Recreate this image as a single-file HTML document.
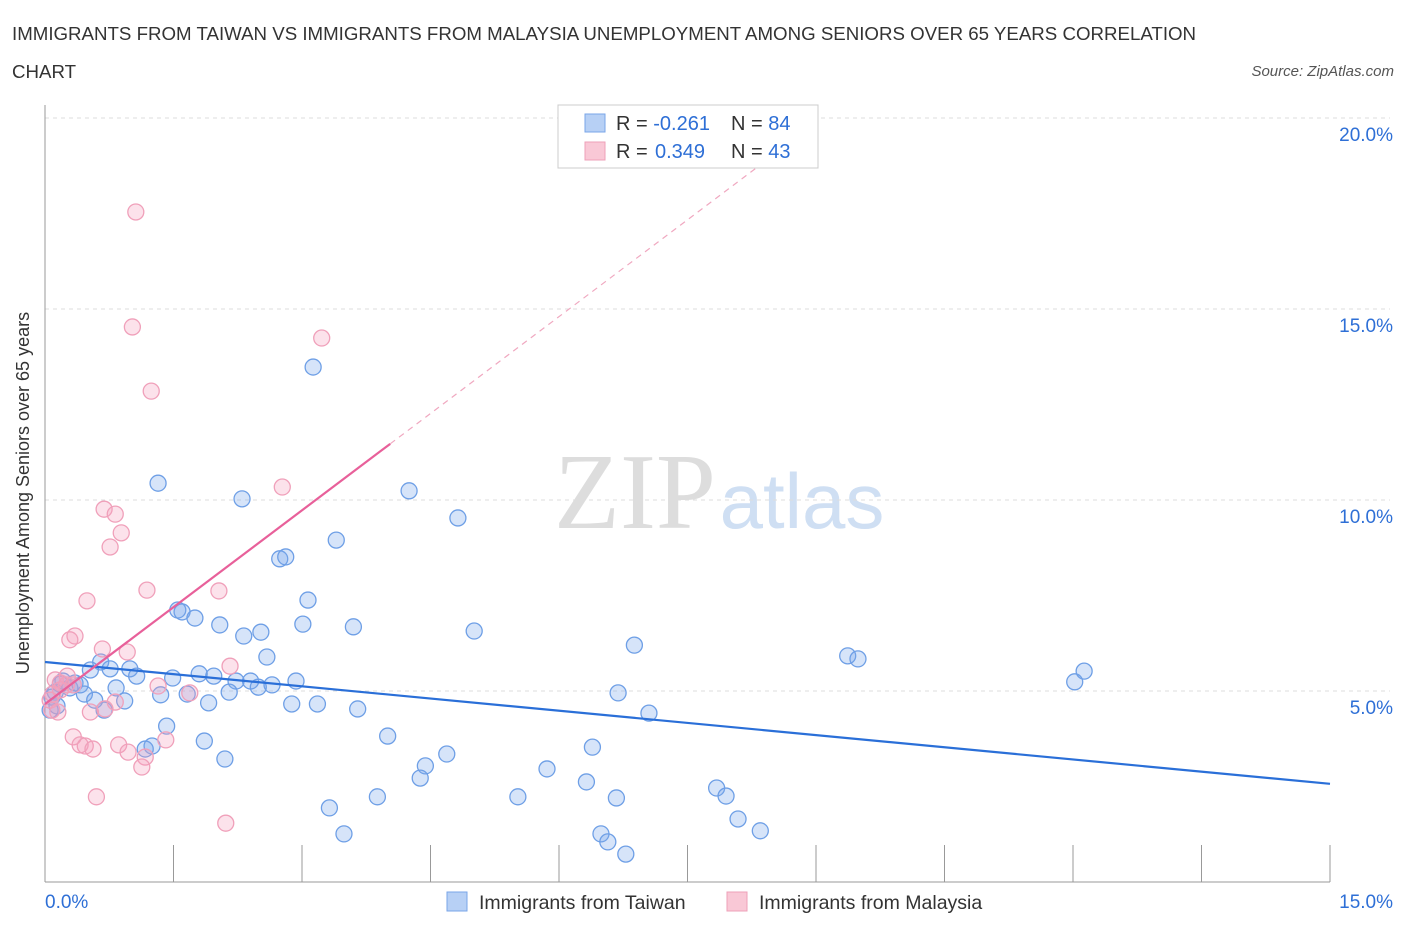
<!DOCTYPE html>
<html><head><meta charset="utf-8"><style>
body{margin:0;background:#fff;font-family:"Liberation Sans",sans-serif}
svg text{font-family:"Liberation Sans",sans-serif}
</style></head><body>
<svg id="c" width="1406" height="930">
<text x="12" y="40" font-size="18.7" fill="#333">IMMIGRANTS FROM TAIWAN VS IMMIGRANTS FROM MALAYSIA UNEMPLOYMENT AMONG SENIORS OVER 65 YEARS CORRELATION</text>
<text x="12" y="78" font-size="18.7" fill="#333">CHART</text>
<text x="1394" y="76" font-size="15" fill="#555" font-style="italic" text-anchor="end">Source: ZipAtlas.com</text>
<text x="635" y="528" font-size="108" fill="#ddd" text-anchor="middle" style="font-family:'Liberation Serif',serif">ZIP</text>
<text x="802" y="528" font-size="78" fill="#cfdff3" text-anchor="middle">atlas</text>
<text x="29" y="493" font-size="18" fill="#333" text-anchor="middle" transform="rotate(-90 29 493)">Unemployment Among Seniors over 65 years</text>
<g id="grid"></g><g id="marks"></g>
<g>
<rect x="558" y="105" width="260" height="63" fill="#fff" stroke="#ccc"/>
<rect x="585" y="114" width="20" height="18" fill="#b7d0f5" stroke="#7aa6e8"/>
<rect x="585" y="142" width="20" height="18" fill="#f9c8d6" stroke="#eea0b8"/>
<text x="616" y="130" font-size="20" fill="#333">R = <tspan fill="#2e6fd6">-0.261</tspan><tspan x="731">N = </tspan><tspan fill="#2e6fd6">84</tspan></text>
<text x="616" y="158" font-size="20" fill="#333">R = <tspan fill="#2e6fd6" x="655">0.349</tspan><tspan x="731">N = </tspan><tspan fill="#2e6fd6">43</tspan></text>
</g>
<g>
<rect x="447" y="892" width="20" height="19" fill="#b7d0f5" stroke="#7aa6e8"/>
<text x="479" y="909" font-size="19.5" fill="#333">Immigrants from Taiwan</text>
<rect x="727" y="892" width="20" height="19" fill="#f9c8d6" stroke="#eea0b8"/>
<text x="759" y="909" font-size="19.5" fill="#333">Immigrants from Malaysia</text>
</g>
</svg>
<script>
const xTicks=[0,15];
const yTicks=[5,10,15,20];
const taiwanX=[1.32,2.30,3.13,4.25,4.82,3.40,2.74,2.81,3.07,1.55,1.60,1.75,2.04,2.32,2.52,3.01,3.60,5.01,6.88,2.59,0.65,0.53,0.76,0.99,1.07,1.49,1.80,1.97,2.23,2.40,2.49,2.65,2.93,2.15,1.35,1.66,0.83,0.46,0.29,0.18,0.12,0.08,0.06,0.14,0.21,0.35,0.41,0.58,0.93,0.69,1.91,2.88,3.18,3.65,6.69,7.05,9.37,9.49,12.02,12.13,1.42,1.86,4.00,1.25,1.17,2.10,4.69,4.44,4.38,5.86,6.39,6.32,7.84,7.95,3.88,3.32,5.52,6.67,8.09,8.35,3.49,6.49,6.57,6.78];
const taiwanY=[10.44,10.03,13.48,10.24,9.53,8.95,8.46,8.51,7.38,7.12,7.07,6.91,6.73,6.44,6.54,6.75,6.68,6.57,6.20,5.89,5.76,5.55,5.58,5.58,5.39,5.34,5.45,5.39,5.26,5.26,5.10,5.16,5.26,4.97,4.90,4.92,5.08,4.92,5.08,5.18,4.97,4.84,4.50,4.61,5.26,5.21,5.16,4.76,4.74,4.50,4.69,4.66,4.66,4.53,4.95,4.42,5.92,5.84,5.24,5.52,4.08,3.69,3.82,3.56,3.48,3.22,3.35,3.04,2.72,2.96,3.53,2.62,2.46,2.25,2.23,1.94,2.23,2.20,1.65,1.34,1.26,1.26,1.05,0.73];
const malaysiaX=[1.06,1.02,3.23,1.24,2.77,0.69,0.82,0.89,0.76,1.19,2.03,0.49,0.35,0.29,0.67,0.96,2.16,0.26,0.12,0.18,0.25,0.09,0.06,0.08,0.15,0.33,1.32,1.69,0.82,0.53,0.70,0.33,0.41,0.47,0.56,0.86,0.97,1.41,1.17,1.13,0.60,2.11,0.18];
const malaysiaY=[17.54,14.53,14.24,12.85,10.34,9.76,9.63,9.14,8.77,7.64,7.62,7.36,6.44,6.34,6.10,6.02,5.65,5.39,5.29,5.03,5.16,4.92,4.76,4.50,4.45,5.16,5.13,4.95,4.71,4.45,4.53,3.80,3.59,3.56,3.48,3.59,3.40,3.72,3.27,3.01,2.23,1.54,5.21];
const taiwanTrend=[5.76,2.57]; // y at x=0, x=15
const malaysiaTrend=[4.66,1.69]; // intercept, slope
const malaysiaSolidEnd=4.03, malaysiaDashEnd=9.05;
const X=v=>45+v/15*1285, Y=v=>882-v/5*191;
const NS='http://www.w3.org/2000/svg';
function mk(t,a,p){const e=document.createElementNS(NS,t);for(const k in a)e.setAttribute(k,a[k]);p.appendChild(e);return e;}
const g=document.getElementById('grid'), m=document.getElementById('marks');
yTicks.forEach(v=>{
 const l=mk('line',{x1:45,x2:1390,y1:Y(v),y2:Y(v),stroke:'#ddd','stroke-dasharray':'4,4'},g);
 
 
 const t=mk('text',{x:1393,y:Y(v)+23,'font-size':19,fill:'#2e6fd6','text-anchor':'end'},g);t.textContent=v.toFixed(1)+'%';
 
 
});
mk('line',{x1:45,x2:45,y1:105,y2:882,stroke:'#999'},g);
mk('line',{x1:45,x2:1330,y1:882,y2:882,stroke:'#999'},g);
for(let i=1;i<=10;i++){const x=45+i*128.5;const l=mk('line',{x1:x,x2:x,y1:845,y2:882,stroke:'#999'},g);
 
 }
xTicks.forEach((v,i)=>{const t=mk('text',{x:i?1393:45,y:908,'font-size':19,fill:'#2e6fd6','text-anchor':i?'end':'start'},g);t.textContent=v.toFixed(1)+'%';
 
 });
taiwanX.forEach((v,i)=>{const c=mk('circle',{cx:X(v),cy:Y(taiwanY[i]),r:8,fill:'rgba(120,165,235,0.3)',stroke:'#6e9fe6','stroke-width':1.3},m);
 
 });
malaysiaX.forEach((v,i)=>{const c=mk('circle',{cx:X(v),cy:Y(malaysiaY[i]),r:8,fill:'rgba(245,160,190,0.3)',stroke:'#f0a0ba','stroke-width':1.3},m);
 
 });
const bl=mk('line',{x1:X(0),y1:Y(taiwanTrend[0]),x2:X(15),y2:Y(taiwanTrend[1]),stroke:'#2a6fd8','stroke-width':2.2},m);


const pf=x=>malaysiaTrend[0]+malaysiaTrend[1]*x;
const pl=mk('line',{x1:X(0),y1:Y(pf(0)),x2:X(malaysiaSolidEnd),y2:Y(pf(malaysiaSolidEnd)),stroke:'#e8609a','stroke-width':2.2},m);


const pd=mk('line',{x1:X(malaysiaSolidEnd),y1:Y(pf(malaysiaSolidEnd)),x2:X(malaysiaDashEnd),y2:Y(pf(malaysiaDashEnd)),stroke:'#f0a8c0','stroke-width':1.2,'stroke-dasharray':'6,5'},m);


</script>
</body></html>
